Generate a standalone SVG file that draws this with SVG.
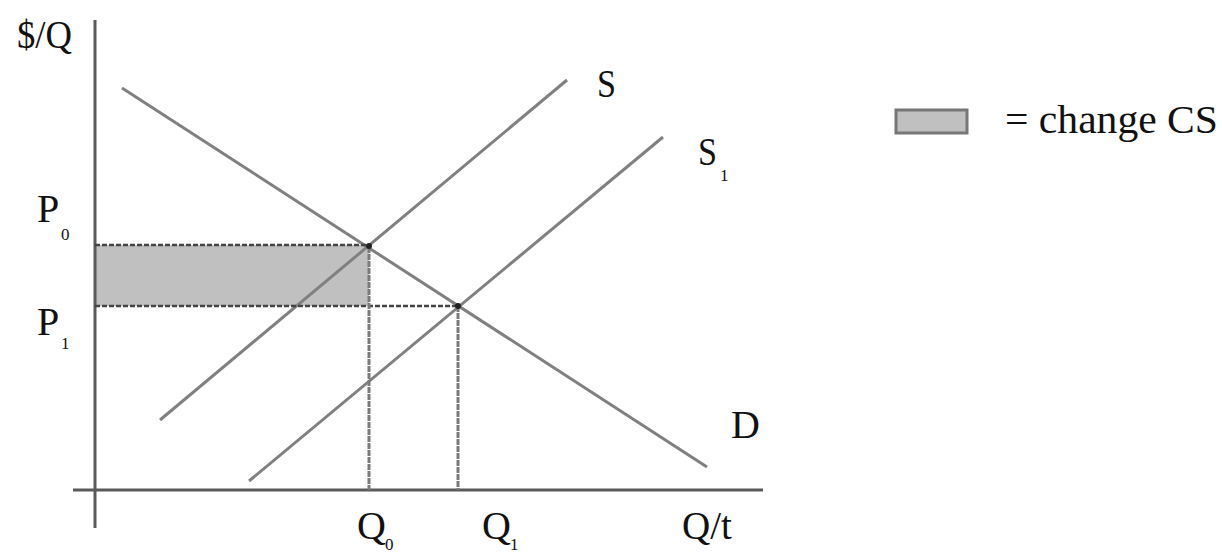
<svg xmlns="http://www.w3.org/2000/svg" width="1222" height="555" viewBox="0 0 1222 555">
<style>
text{font-family:"Liberation Serif","Times New Roman",serif;fill:#111;font-size:40px}
.sub{font-size:17px}
.ln{stroke:#808080;stroke-width:3;fill:none}
.ax{stroke:#5a5a5a;stroke-width:3;fill:none}
.dash{stroke:#444;stroke-width:2.5;stroke-dasharray:5 2;fill:none}
.vd{stroke:#7a7a7a;stroke-width:3;stroke-dasharray:6 1;fill:none}
</style>
<rect width="1222" height="555" fill="#fff"/>
<g id="area"><rect x="95" y="245" width="274" height="61" fill="#c0c0c0"/></g>
<g id="connectors">
<line class="ax" x1="95" y1="20" x2="95" y2="528"/>
<line class="ax" x1="73" y1="490" x2="763" y2="490"/>
<line class="ln" x1="122" y1="88" x2="707" y2="467"/>
<line class="ln" x1="160" y1="420" x2="567" y2="80"/>
<line class="ln" x1="249" y1="481" x2="663" y2="137"/>
<line class="dash" x1="95" y1="245" x2="369" y2="245"/>
<line class="dash" x1="95" y1="306" x2="458" y2="306"/>
<line class="vd" x1="369" y1="247" x2="369" y2="490"/>
<line class="vd" x1="458" y1="306" x2="458" y2="490"/>
<circle cx="369" cy="246" r="3" fill="#222"/>
<circle cx="458" cy="306" r="3" fill="#222"/>
</g>
<g id="labels">
<text x="17" y="48" textLength="55" lengthAdjust="spacingAndGlyphs">$/Q</text>
<text x="37" y="222">P</text><text class="sub" x="61" y="240">0</text>
<text x="37" y="335">P</text><text class="sub" x="61" y="349">1</text>
<text x="357" y="539">Q</text><text class="sub" x="385" y="550">0</text>
<text x="482" y="539">Q</text><text class="sub" x="510" y="550">1</text>
<text x="682" y="539" textLength="50" lengthAdjust="spacingAndGlyphs">Q/t</text>
<text x="597" y="97" textLength="19" lengthAdjust="spacingAndGlyphs">S</text>
<text x="698" y="165" textLength="19" lengthAdjust="spacingAndGlyphs">S</text><text class="sub" x="720" y="181">1</text>
<text x="731" y="438">D</text>
</g>
<g id="legend">
<rect x="896" y="110" width="71" height="23" fill="#c0c0c0" stroke="#777" stroke-width="3"/>
<text x="1005" y="133" font-size="44" textLength="213" lengthAdjust="spacingAndGlyphs">= change CS</text>
</g>
</svg>
